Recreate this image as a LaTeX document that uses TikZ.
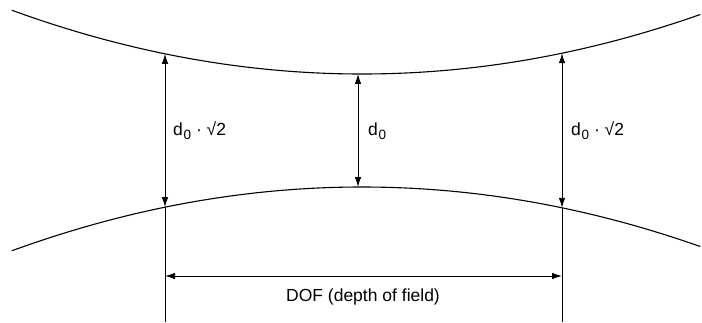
\documentclass[tikz,border=0pt]{standalone}
\usepackage{fontspec}
\setmainfont{Liberation Sans}
\usetikzlibrary{arrows.meta}
\newcommand{\dsub}{d\kern0.04em\raisebox{-0.22em}{\fontsize{13.5}{13.5}\selectfont 0}}
\begin{document}
\begin{tikzpicture}[x=1pt,y=-1pt,
  beam/.style={line width=1.1pt,line cap=round},
  dimarrow/.style={line width=0.9pt,{Latex[length=10pt,width=6.5pt]}-{Latex[length=10pt,width=6.5pt]}},
  guide/.style={line width=0.8pt},
  lbl/.style={font=\fontsize{17.5}{19}\selectfont,inner sep=0pt}]
\useasboundingbox (0,0) rectangle (702,322);
% beam curves
\draw[beam] plot[domain=12:700,samples=80,smooth] (\x,{74-5.2*((\x-362)/100)^2});
\draw[beam] plot[domain=12:700,samples=80,smooth] (\x,{187+5.2*((\x-362)/100)^2});
% named points on the curves
\coordinate (lt) at (165,{74-5.2*((165-362)/100)^2});
\coordinate (lb) at (165,{187+5.2*((165-362)/100)^2});
\coordinate (mt) at (358,{74-5.2*((358-362)/100)^2});
\coordinate (mb) at (358,{187+5.2*((358-362)/100)^2});
\coordinate (rt) at (562,{74-5.2*((562-362)/100)^2});
\coordinate (rb) at (562,{187+5.2*((562-362)/100)^2});
\coordinate (lend) at (165,322);
\coordinate (rend) at (562,322);
\coordinate (ld) at (165,276);
\coordinate (rd) at (562,276);
% arrows
\draw[dimarrow] (lt) -- (lb);
\draw[dimarrow] (mt) -- (mb);
\draw[dimarrow] (rt) -- (rb);
\draw[guide] (lb) -- (lend);
\draw[guide] (rb) -- (rend);
\draw[dimarrow] (ld) -- (rd);
% labels
\node[lbl,anchor=west] (l1) at (173,131) {\dsub\ ·\ √2};
\node[lbl,anchor=west] (l2) at (368,131) {\dsub};
\node[lbl,anchor=west] (l3) at (571,131) {\dsub\ ·\ √2};
\node[lbl] (dof) at (363,297) {DOF (depth of field)};
\end{tikzpicture}
\end{document}
